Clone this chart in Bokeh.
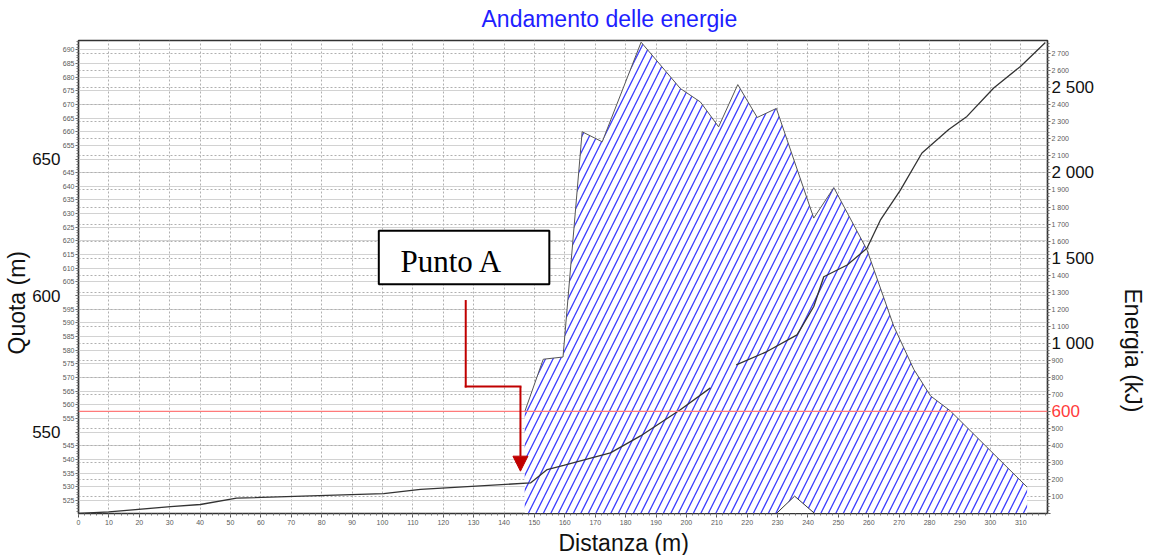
from bokeh.plotting import figure
from bokeh.models import (Range1d, LinearAxis, SingleIntervalTicker, FixedTicker, Grid, Label,
                          Span, Arrow, NormalHead, BoxAnnotation, Title)
from bokeh.embed import file_html
from bokeh.resources import INLINE

# ---------------- data ----------------
# energy envelope (right axis, kJ) vs distance (m)
energy_distance = [146.8, 146.8, 152.9, 159.4, 165.7, 172.3, 185.1, 198.0, 204.6, 210.6,
                   216.9, 223.3, 229.6, 241.9, 248.5, 259.4, 268.2, 274.8, 280.3, 286.8, 312.1]
energy_kj = [0, 597, 906, 919, 2242, 2183, 2768, 2496, 2417, 2271,
             2519, 2326, 2379, 1735, 1914, 1549, 1101, 847, 691, 603, 155]

# small unhatched notch at the bottom of the envelope
notch_distance = [229.6, 235.6, 242.2]
notch_kj = [0, 102, 0]

# terrain profile (left axis, m a.s.l.) - NaN marks the break in the line
terrain_distance = [0.0, 10.0, 30.3, 40.1, 52.0, 100.4, 112.5, 148.7, 154.2, 159.6,
                    175.0, 184.9, 198.0, 207.9, float("nan"), 216.4, 226.5, 236.4, 241.9,
                    245.2, 252.9, 259.4, 263.8, 270.4, 277.5, 286.3, 292.3, 301.1, 309.9, 318.1]
terrain_quota = [520.2, 520.8, 522.7, 523.5, 525.8, 527.5, 529.0, 531.4, 536.3, 537.8,
                 542.4, 548.6, 558.2, 566.2, float("nan"), 574.6, 579.5, 585.6, 596.0,
                 606.9, 611.2, 617.3, 627.6, 638.6, 652.2, 660.8, 665.6, 676.0, 683.9, 692.7]

energy_threshold = 600
quota_big_labels = [550, 600, 650]
energy_big_labels = [1000, 1500, 2000, 2500]
energy_tick_values = list(range(0, 2800, 100))

title_text = "Andamento delle energie"
x_title = "Distanza (m)"
left_title = "Quota (m)"
right_title = "Energia (kJ)"
point_label = "Punto A"

FONT = "Liberation Sans"


def thousands(v):
    return f"{v:,}".replace(",", " ")


# ---------------- figure ----------------
p = figure(width=1153, height=555, output_backend="svg", toolbar_location=None,
           title=None, x_range=Range1d(0, 318.8), y_range=Range1d(520.2, 693.4),
           min_border_left=78, min_border_right=106, min_border_top=40, min_border_bottom=41)
p.extra_y_ranges = {"energy": Range1d(0, 2778)}
p.background_fill_color = "white"
p.border_fill_color = "white"
p.outline_line_color = "#333333"
p.outline_line_width = 1.5


def style_small(ax, tick_out=4, standoff=3):
    ax.axis_line_color = "#333333"
    ax.axis_line_width = 1.2
    ax.major_tick_line_color = "#555555"
    ax.minor_tick_line_color = "#777777"
    ax.major_tick_out = tick_out
    ax.major_tick_in = 0
    ax.minor_tick_out = 2
    ax.minor_tick_in = 0
    ax.major_label_text_font = FONT
    ax.major_label_text_font_size = "7px"
    ax.major_label_text_color = "#5a5a5a"
    ax.major_label_standoff = standoff


def style_blank(ax, tick_out=0, standoff=0):
    ax.axis_line_color = None
    ax.major_tick_line_color = None
    ax.minor_tick_line_color = None
    ax.major_tick_out = tick_out
    ax.major_tick_in = 0
    ax.minor_tick_out = 0
    ax.minor_tick_in = 0
    ax.major_label_standoff = standoff


def style_big(ax, color, standoff):
    style_blank(ax, 0, standoff)
    ax.major_label_text_font = FONT
    ax.major_label_text_font_size = "17px"
    ax.major_label_text_color = color


def make_spacer(size, tick, **kw):
    # invisible axis used only to reserve room between the frame and a title
    ax = LinearAxis(ticker=FixedTicker(ticks=[tick]), **kw)
    style_blank(ax, tick_out=size)
    ax.major_label_overrides = {tick: ""}
    ax.major_label_text_font_size = "1px"
    return ax


# x axis
xa = p.xaxis[0]
xa.ticker = SingleIntervalTicker(interval=10, num_minor_ticks=5)
style_small(xa, tick_out=4, standoff=2)

# top spacer (keeps the title clear of the frame)
p.add_layout(make_spacer(9, 100), "above")

# left axes
ya = p.yaxis[0]
ya.ticker = SingleIntervalTicker(interval=5, num_minor_ticks=5)
ya.major_label_overrides = {q: "" for q in quota_big_labels}
style_small(ya, tick_out=3, standoff=1)
ya_big = LinearAxis(ticker=FixedTicker(ticks=quota_big_labels))
style_big(ya_big, "#111111", -1)
p.add_layout(ya_big, "left")

# right axes
yr = LinearAxis(y_range_name="energy",
                ticker=SingleIntervalTicker(interval=100, num_minor_ticks=5))
yr.major_label_overrides = {
    v: ("" if (v in energy_big_labels or v == energy_threshold or v == 0) else thousands(v))
    for v in energy_tick_values}
style_small(yr, tick_out=3, standoff=1)
p.add_layout(yr, "right")

yr_red = LinearAxis(y_range_name="energy", ticker=FixedTicker(ticks=[energy_threshold]))
style_big(yr_red, "#ff3b3b", -21)
p.add_layout(yr_red, "right")

yr_big = LinearAxis(y_range_name="energy", ticker=FixedTicker(ticks=energy_big_labels))
yr_big.major_label_overrides = {v: thousands(v) for v in energy_big_labels}
style_big(yr_big, "#111111", -31)
p.add_layout(yr_big, "right")

p.add_layout(make_spacer(13, 1000, y_range_name="energy"), "right")

# titles
p.add_layout(Title(text=title_text, align="left", offset=403, standoff=0,
                   text_font=FONT, text_font_size="23px", text_font_style="normal",
                   text_color="#1e1eff"), "above")
p.add_layout(Title(text=x_title, align="left", offset=480, standoff=0,
                   text_font=FONT, text_font_size="23px", text_font_style="normal",
                   text_color="#111111"), "below")
p.add_layout(Title(text=left_title, align="left", offset=159, standoff=0,
                   text_font=FONT, text_font_size="23px", text_font_style="normal",
                   text_color="#111111"), "left")
p.add_layout(Title(text=right_title, align="left", offset=248, standoff=15,
                   vertical_align="top",
                   text_font=FONT, text_font_size="23px", text_font_style="normal",
                   text_color="#111111"), "right")

# grids
p.xgrid.ticker = xa.ticker
p.xgrid.grid_line_color = "#b0b0b0"
p.xgrid.grid_line_dash = "2 2"
p.ygrid.ticker = ya.ticker
p.ygrid.grid_line_color = "#d2d2d2"
p.ygrid.grid_line_width = 1
eg = Grid(dimension=1, ticker=yr.ticker, y_range_name="energy",
          grid_line_color="#b0b0b0", grid_line_dash="2 2")
p.add_layout(eg)

# hatched energy envelope
patch_x = [energy_distance[0]] + energy_distance + [energy_distance[-1]]
patch_y = [0] + energy_kj + [0]
p.patch(patch_x, patch_y, y_range_name="energy", fill_color="white", fill_alpha=1,
        line_color=None, hatch_pattern="/", hatch_color="#3c3cff", hatch_weight=1.3,
        hatch_scale=15)
p.line(energy_distance[1:], energy_kj[1:], y_range_name="energy",
       line_color="#555555", line_width=1)
p.patch(notch_distance, notch_kj, y_range_name="energy", fill_color="white",
        fill_alpha=1, line_color="#333333", line_width=1)

# threshold
p.add_layout(Span(location=energy_threshold, dimension="width", y_range_name="energy",
                  line_color="#ff7a7a", line_width=1.2))

# terrain
p.line(terrain_distance, terrain_quota, line_color="#333333", line_width=1.3)

# ---------------- annotations ----------------
p.add_layout(BoxAnnotation(left=98.8, right=154.9, bottom=604.1, top=623.7,
                           fill_color="white", fill_alpha=1, line_color="black",
                           line_alpha=1, line_width=2))
p.add_layout(Label(x=105.9, y=612.3, text=point_label, text_font="Liberation Serif",
                   text_font_size="31px", text_color="black", text_align="left",
                   text_baseline="middle"))

RED = "#c00000"
p.add_layout(Arrow(x_start=127.4, y_start=598.0, x_end=127.4, y_end=566.7, end=None,
                   line_color=RED, line_width=2, line_cap="square"))
p.add_layout(Arrow(x_start=127.4, y_start=566.7, x_end=145.4, y_end=566.7, end=None,
                   line_color=RED, line_width=2, line_cap="square"))
p.add_layout(Arrow(x_start=145.4, y_start=566.7, x_end=145.4, y_end=535.7,
                   end=NormalHead(size=15, fill_color=RED, line_color=RED),
                   line_color=RED, line_width=2))

open("out.html", "w").write(file_html(p, INLINE))
